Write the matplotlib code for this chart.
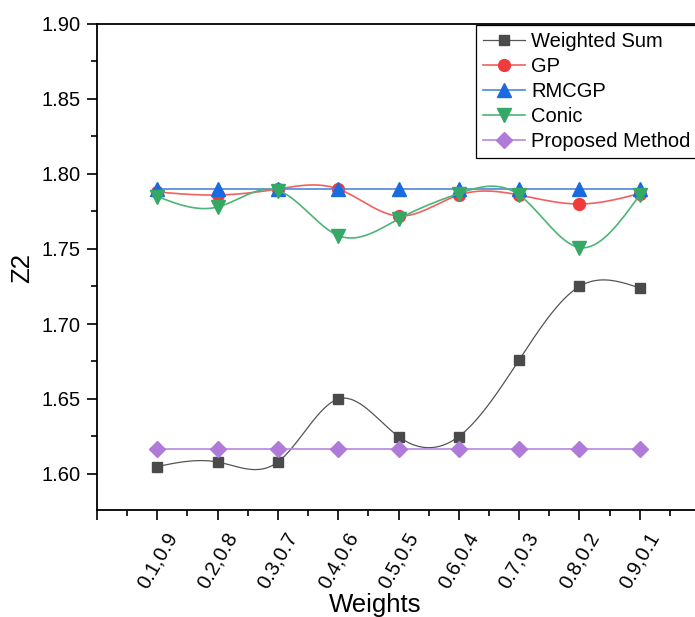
import numpy as np
import matplotlib
matplotlib.use("Agg")
import matplotlib.pyplot as plt
from matplotlib.ticker import MultipleLocator

plt.rcParams["font.family"] = ["Liberation Sans", "DejaVu Sans"]

WEIGHTS = ["0.1,0.9", "0.2,0.8", "0.3,0.7", "0.4,0.6", "0.5,0.5",
           "0.6,0.4", "0.7,0.3", "0.8,0.2", "0.9,0.1"]

WEIGHTED_SUM = [1.605, 1.608, 1.608, 1.650, 1.625, 1.625, 1.676, 1.725, 1.724]
GP = [1.788, 1.786, 1.790, 1.790, 1.772, 1.786, 1.786, 1.780, 1.787]
RMCGP = [1.790, 1.790, 1.790, 1.790, 1.790, 1.790, 1.790, 1.790, 1.790]
CONIC = [1.785, 1.778, 1.789, 1.759, 1.770, 1.787, 1.786, 1.751, 1.786]
PROPOSED = [1.617, 1.617, 1.617, 1.617, 1.617, 1.617, 1.617, 1.617, 1.617]


def natural_spline(x, y, num=300):
    x = np.asarray(x, float)
    y = np.asarray(y, float)
    n = len(x)
    h = np.diff(x)
    a = np.zeros((n, n))
    r = np.zeros(n)
    a[0, 0] = 1.0
    a[-1, -1] = 1.0
    for i in range(1, n - 1):
        a[i, i - 1] = h[i - 1]
        a[i, i] = 2 * (h[i - 1] + h[i])
        a[i, i + 1] = h[i]
        r[i] = 6 * ((y[i + 1] - y[i]) / h[i] - (y[i] - y[i - 1]) / h[i - 1])
    m = np.linalg.solve(a, r)
    xs = np.linspace(x[0], x[-1], num)
    idx = np.clip(np.searchsorted(x, xs) - 1, 0, n - 2)
    x0, x1 = x[idx], x[idx + 1]
    hh = x1 - x0
    t0, t1 = x1 - xs, xs - x0
    ys = (m[idx] * t0 ** 3 + m[idx + 1] * t1 ** 3) / (6 * hh) \
        + (y[idx] / hh - m[idx] * hh / 6) * t0 \
        + (y[idx + 1] / hh - m[idx + 1] * hh / 6) * t1
    return xs, ys


fig = plt.figure(figsize=(6.95, 6.17), dpi=100)
ax = fig.add_axes([97 / 695, 107 / 617, 603 / 695, 486 / 617])

pos = np.arange(1, len(WEIGHTS) + 1)

series = [
    ("Weighted Sum", WEIGHTED_SUM, "#555555", "#4a4a4a", "s", 7.5, 0.9),
    ("GP", GP, "#f26060", "#ef3b3b", "o", 8.5, 1.2),
    ("RMCGP", RMCGP, "#4f86dc", "#1a6be0", "^", 10, 1.2),
    ("Conic", CONIC, "#4cb577", "#35a865", "v", 10, 1.2),
    ("Proposed Method", PROPOSED, "#b588e0", "#b07ad8", "D", 8, 1.2),
]

for name, vals, lc, mc, mk, ms, lw in series:
    xs, ys = natural_spline(pos, vals)
    ax.plot(xs, ys, color=lc, lw=lw)
    ax.plot(pos, vals, linestyle="none", marker=mk, ms=ms, color=mc, mec=mc)
    ax.plot([], [], color=lc, lw=lw, marker=mk, ms=ms, mfc=mc, mec=mc, label=name)

ax.set_xlim(0, 10)
ax.set_ylim(1.576, 1.90)
ax.set_xticks(np.arange(0, 11))
ax.set_xticklabels([""] + WEIGHTS + [""], rotation=60, ha="center", fontsize=14.5)
ax.xaxis.set_minor_locator(MultipleLocator(0.5))
ax.set_yticks([1.60, 1.65, 1.70, 1.75, 1.80, 1.85, 1.90])
ax.set_yticklabels(["1.60", "1.65", "1.70", "1.75", "1.80", "1.85", "1.90"], fontsize=14.5)
ax.yaxis.set_minor_locator(MultipleLocator(0.025))

ax.tick_params(axis="both", which="major", direction="out", length=7, width=1.2)
ax.tick_params(axis="both", which="minor", direction="out", length=4, width=1.2)
ax.tick_params(axis="x", pad=7)
ax.tick_params(axis="y", pad=5)
ax.tick_params(top=False, right=False, which="both")

for side in ["left", "bottom", "top", "right"]:
    ax.spines[side].set_linewidth(1.3)

ax.set_xlabel("Weights", fontsize=18.5)
ax.set_ylabel("Z2", fontsize=18.5)
ax.xaxis.set_label_coords(0.461, -0.195)
ax.yaxis.set_label_coords(-0.124, 0.498)
ax.xaxis.label.set_va("center")
ax.yaxis.label.set_va("center")

leg = ax.legend(loc="upper left", bbox_to_anchor=((476 - 97) / 603, 1 - 1 / 486),
                fontsize=14.5, frameon=True, fancybox=False, framealpha=1,
                edgecolor="black", borderpad=0.35, labelspacing=0.3,
                handlelength=2.1, handletextpad=0.3, borderaxespad=0)
leg.get_frame().set_linewidth(0.9)

fig.savefig("out.png", dpi=100)
